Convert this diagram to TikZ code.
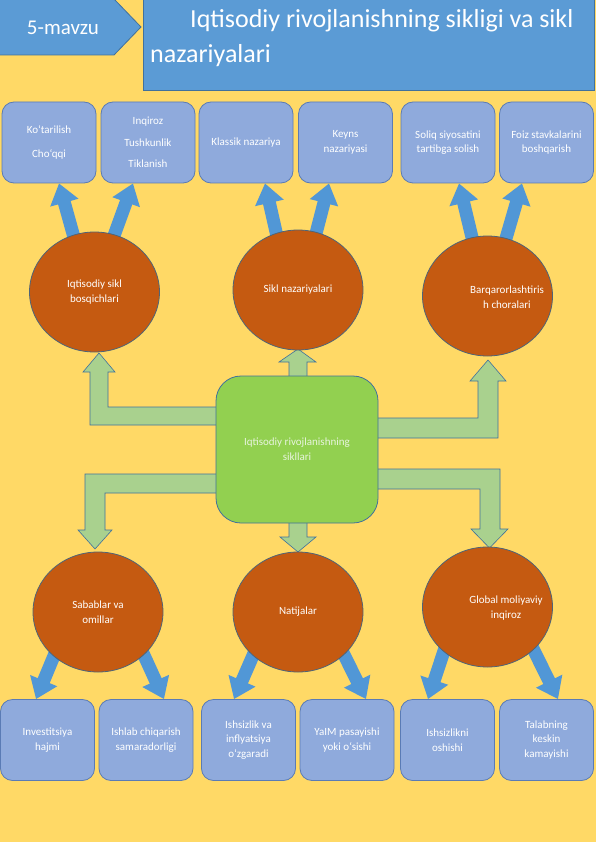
\documentclass[tikz,border=0pt]{standalone}
\usepackage{fontspec}
\setmainfont{Carlito}
\usetikzlibrary{shapes.geometric,arrows.meta,calc}
\pgfdeclarelayer{back}
\pgfsetlayers{back,main}
\definecolor{bg}{HTML}{FFD966}
\definecolor{hdr}{HTML}{5B9BD5}
\definecolor{hdrline}{HTML}{41719C}
\definecolor{boxfill}{HTML}{8FAADC}
\definecolor{boxline}{HTML}{5A7BB5}
\definecolor{circfill}{HTML}{C55A11}
\definecolor{circline}{HTML}{4E6478}
\definecolor{gfill}{HTML}{92D050}
\definecolor{garrow}{HTML}{A9D18E}
\definecolor{barrowc}{HTML}{5197D6}
\definecolor{gtext}{HTML}{E8F4DE}
\begin{document}
\begin{tikzpicture}[x=1pt,y=-1pt,
  infobox/.style={draw=boxline, line width=0.8pt, fill=boxfill, rounded corners=12pt,
    minimum width=94pt, minimum height=81pt, inner sep=0pt, align=center, text=white,
    font=\fontsize{11}{14.5}\selectfont},
  circ/.style={ellipse, draw=circline, line width=0.8pt, fill=circfill,
    minimum width=130pt, minimum height=120pt, inner sep=0pt},
  ctext/.style={align=center, text=white, font=\fontsize{11}{14.5}\selectfont},
  blk/.style={draw=hdrline, line width=0.6pt, fill=garrow},
  barr/.style={draw=barrowc, line width=13pt, -{Triangle[width=28pt,length=20pt]}},
]
\useasboundingbox (0,0) rectangle (596,842);

% ---------- header ----------
\path[draw=hdrline, fill=hdr, line width=0.8pt] (-1,-1) -- (114,-1) -- (141,27) -- (114,55) -- (-1,55) -- cycle;
\node[anchor=base, text=white, font=\fontsize{21}{25}\selectfont] (mavzu) at (63,35) {5-mavzu};
\node[draw=hdrline, fill=hdr, line width=0.8pt, minimum width=451pt, minimum height=91pt,
  anchor=north west, inner sep=0pt] (title) at (143,-1) {};
\node[anchor=base west, text=white, font=\fontsize{26}{32}\selectfont, inner sep=0pt] (t1) at (190,28)
  {Iqtisodiy rivojlanishning sikligi va sikl};
\node[anchor=base west, text=white, font=\fontsize{26}{32}\selectfont, inner sep=0pt] (t2) at (150,63)
  {nazariyalari};

% ---------- central box ----------
\node[draw=hdrline, line width=0.8pt, fill=gfill, rounded corners=25pt, minimum width=162pt,
  minimum height=147pt, inner sep=0pt, align=center, text=gtext,
  font=\fontsize{11}{15}\selectfont] (g) at (297,449.5) {Iqtisodiy rivojlanishning\\sikllari};

% ---------- circles ----------
\node[circ, ctext] (c1) at (94.5,292) {Iqtisodiy sikl\\bosqichlari};
\node[circ, ctext] (c2) at (298,290) {Sikl nazariyalari};
\node[circ] (c3) at (487.5,296) {};
\node[ctext] (c3t) at (507,297) {Barqarorlashtiris\\h choralari};
\node[circ, ctext] (c4) at (98,612) {Sabablar va\\omillar};
\node[circ, ctext] (c5) at (298,612) {Natijalar};
\node[circ] (c6) at (487.5,607) {};
\node[ctext] (c6t) at (506,608) {Global moliyaviy\\inqiroz};

% ---------- top boxes ----------
\node[infobox] (b1) at (49,142.5) {Ko‘tarilish\\[9pt]Cho‘qqi};
\node[infobox] (b2) at (148,142.5) {Inqiroz\\[7pt]Tushkunlik\\[7pt]Tiklanish};
\node[infobox] (b3) at (246,142.5) {Klassik nazariya};
\node[infobox] (b4) at (345.5,142.5) {Keyns\\nazariyasi};
\node[infobox] (b5) at (448,142.5) {Soliq siyosatini\\tartibga solish};
\node[infobox] (b6) at (546.5,142.5) {Foiz stavkalarini\\boshqarish};

% ---------- bottom boxes ----------
\node[infobox] (b7) at (47.5,740) {Investitsiya\\hajmi};
\node[infobox] (b8) at (146,740) {Ishlab chiqarish\\samaradorligi};
\node[infobox] (b9) at (248.5,740) {Ishsizlik va\\inflyatsiya\\o‘zgaradi};
\node[infobox] (b10) at (347,740) {YaIM pasayishi\\yoki o‘sishi};
\node[infobox] (b11) at (447.5,740) {Ishsizlikni\\oshishi};
\node[infobox] (b12) at (546.5,740) {Talabning\\keskin\\kamayishi};

\begin{pgfonlayer}{back}
\fill[bg] (0,0) rectangle (596,842);
% green block arrows
\path[blk] (222,407) -- (108,407) -- (108,372) -- (115,372) -- (99,353) -- (83,372) -- (90,372) -- (90,425) -- (222,425) -- cycle;
\path[blk] (372,418) -- (478,418) -- (478,381) -- (470,381) -- (488,360) -- (506,381) -- (498,381) -- (498,438) -- (372,438) -- cycle;
\path[blk] (222,474) -- (85,474) -- (85,530) -- (78,530) -- (95,549) -- (112,530) -- (105,530) -- (105,493) -- (222,493) -- cycle;
\path[blk] (372,469) -- (500,469) -- (500,529) -- (508,529) -- (489.5,548) -- (471,529) -- (480,529) -- (480,489) -- (372,489) -- cycle;
\path[blk] (289,380) -- (289,362) -- (279,362) -- (298,349) -- (316,362) -- (307,362) -- (307,380) -- cycle;
\path[blk] (289,518) -- (289,537) -- (280,537) -- (298,552) -- (316,537) -- (307,537) -- (307,518) -- cycle;
% blue arrows, top
\draw[barr] ($(c1.center)!0.88!(c1.111)$) -- ($(b1.south)+(10,0)$);
\draw[barr] ($(c1.center)!0.88!(c1.71)$) -- ($(b2.south)+(-15,0)$);
\draw[barr] ($(c2.center)!0.88!(c2.112)$) -- ($(b3.south)+(19,0)$);
\draw[barr] ($(c2.center)!0.88!(c2.72)$) -- ($(b4.south)+(-16.5,0)$);
\draw[barr] ($(c3.center)!0.88!(c3.105)$) -- ($(b5.south)+(11,0)$);
\draw[barr] ($(c3.center)!0.88!(c3.72)$) -- ($(b6.south)+(-24.5,0)$);
% blue arrows, bottom
\draw[barr] ($(c4.center)!0.88!(c4.222)$) -- ($(b7.north)+(-11.5,0)$);
\draw[barr] ($(c4.center)!0.88!(c4.320)$) -- ($(b8.north)+(18,0)$);
\draw[barr] ($(c5.center)!0.88!(c5.221)$) -- ($(b9.north)+(-14.5,0)$);
\draw[barr] ($(c5.center)!0.88!(c5.320)$) -- ($(b10.north)+(19,0)$);
\draw[barr] ($(c6.center)!0.88!(c6.222)$) -- ($(b11.north)+(-19.5,0)$);
\draw[barr] ($(c6.center)!0.88!(c6.320)$) -- ($(b12.north)+(11.5,0)$);
\end{pgfonlayer}
\end{tikzpicture}
\end{document}
